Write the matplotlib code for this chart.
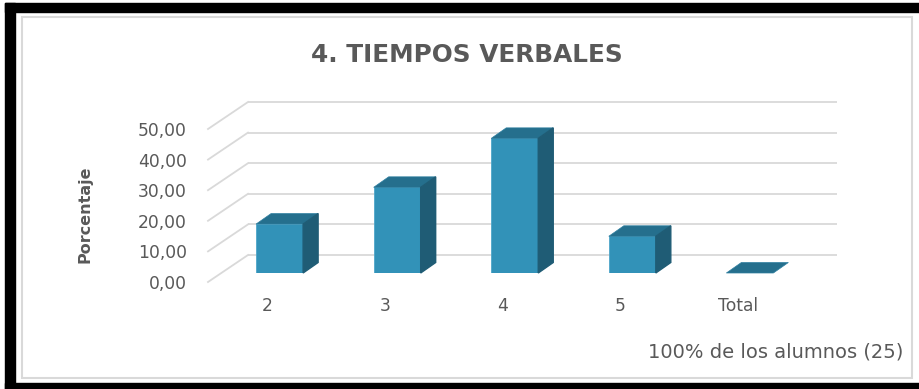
import matplotlib
matplotlib.use("Agg")
import matplotlib.pyplot as plt
from matplotlib.transforms import ScaledTranslation
from matplotlib.patches import Rectangle

# ---- data ----
categories = ["2", "3", "4", "5", "Total"]
values = [16, 28, 44, 12, 0]
yticks = [0, 10, 20, 30, 40, 50]
ytick_labels = ["0,00", "10,00", "20,00", "30,00", "40,00", "50,00"]
title = "4. TIEMPOS VERBALES"
ylabel = "Porcentaje"
note = "100% de los alumnos (25)"

# ---- style ----
FRONT = "#3292B8"
TOP = "#256F8D"
SIDE = "#1F5C75"
GRID = "#D9D9D9"
TXT = "#595959"

W, H, DPI = 920, 389, 100
fig = plt.figure(figsize=(W / DPI, H / DPI), dpi=DPI)
fig.patch.set_facecolor("white")


def fx(px):
    return px / W


def fy(py):
    return 1 - py / H


# axes = front plane of the bars
ax_left, ax_right, ax_top, ax_bottom = 222, 811, 120, 273
ax = fig.add_axes([fx(ax_left), fy(ax_bottom),
                   (ax_right - ax_left) / W, (ax_bottom - ax_top) / H])
XL = (-0.49, 4.52)
ax.set_xlim(*XL)
ax.set_ylim(0, 50)
for s in ax.spines.values():
    s.set_visible(False)
ax.patch.set_alpha(0)

sx = (ax_right - ax_left) / (XL[1] - XL[0])
sy = (ax_bottom - ax_top) / 50.0


def d(dxp, dyp):
    return dxp / sx, dyp / sy


# back wall and floor-front offsets (in data units)
bx, by = d(26, 18)
ffx, ffy = d(-14, -9)
for v in yticks:
    ax.plot([XL[0] + bx, XL[1] + bx], [v + by, v + by], color=GRID, lw=1.3,
            clip_on=False, zorder=1, solid_capstyle="butt")
    ax.plot([XL[0] + ffx, XL[0] + bx], [v + ffy, v + by], color=GRID, lw=1.3,
            clip_on=False, zorder=1)

# bars (pseudo 3D)
xs = list(range(len(categories)))
w = 0.4
ddx, ddy = d(15, 10.5)
ax.bar(xs, values, width=w, color=FRONT, zorder=3, edgecolor="#4FA6CA", linewidth=0.6)
for xi, v in zip(xs, values):
    l, r = xi - w / 2, xi + w / 2
    ax.fill([l, r, r + ddx, l + ddx], [v, v, v + ddy, v + ddy], color=TOP,
            zorder=3, clip_on=False, edgecolor="#2E7FA0", linewidth=0.5)
    if v > 0:
        ax.fill([r, r + ddx, r + ddx, r], [0, ddy, v + ddy, v], color=SIDE,
                zorder=3, clip_on=False)

# ticks
ax.set_xticks(xs, categories)
ax.tick_params(axis="x", length=0, pad=17, labelsize=12.3, labelcolor=TXT)
for lbl in ax.get_xticklabels():
    lbl.set_transform(lbl.get_transform() + ScaledTranslation(-12 / DPI, 0, fig.dpi_scale_trans))
ax.set_yticks(yticks, ytick_labels)
ax.tick_params(axis="y", length=0, pad=25.2, labelsize=12.3, labelcolor=TXT)
for lbl in ax.get_yticklabels():
    lbl.set_transform(lbl.get_transform() + ScaledTranslation(0, -9 / DPI, fig.dpi_scale_trans))

# texts
fig.text(fx(466.5), fy(62), title, ha="center", va="baseline", fontsize=17.8,
         fontweight="bold", color=TXT)
fig.text(fx(85), fy(214), ylabel, ha="center", va="center", rotation=90,
         fontsize=11.5, fontweight="bold", color=TXT)
fig.text(fx(903), fy(357), note, ha="right", va="baseline", fontsize=14, color=TXT)

# frame decorations
fig.patches.append(Rectangle((fx(22), fy(378)), (912 - 22) / W, (378 - 17) / H,
                             transform=fig.transFigure, fill=False,
                             edgecolor=GRID, linewidth=1.5))
fig.patches.append(Rectangle((fx(5), fy(11.5)), (W - 5) / W, 8.5 / H,
                             transform=fig.transFigure, color="black"))
fig.patches.append(Rectangle((fx(5), fy(H)), 10 / W, (H - 3) / H,
                             transform=fig.transFigure, color="black"))
fig.patches.append(Rectangle((fx(5), fy(H)), (W - 5) / W, 6 / H,
                             transform=fig.transFigure, color="black"))

fig.savefig("out.png", dpi=DPI, facecolor="white")
